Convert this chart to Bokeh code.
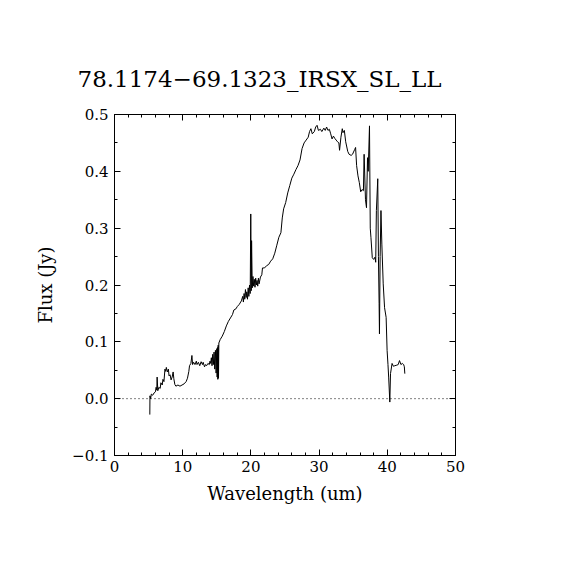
from bokeh.plotting import figure
from bokeh.models import (Range1d, LinearAxis, SingleIntervalTicker, Span,
                          CustomJSTickFormatter, ColumnDataSource)
from bokeh.embed import file_html
from bokeh.resources import INLINE

title_text = "78.1174\u221269.1323_IRSX_SL_LL"
x_label = "Wavelength (um)"
y_label = "Flux (Jy)"

wavelength = [
    5.18, 5.2, 5.3, 5.4, 5.6, 5.8, 6.0, 6.1, 6.2, 6.25, 6.35, 6.5, 6.7, 6.8,
    7.0, 7.1, 7.25, 7.4, 7.5, 7.6, 7.75, 7.9, 8.0, 8.15, 8.3, 8.45, 8.6, 8.7,
    8.85, 9.0, 9.3, 9.6, 9.9, 10.2, 10.5, 10.7, 10.9, 11.0, 11.2, 11.35,
    11.45, 11.6, 11.8, 12.0, 12.1, 12.3, 12.5, 12.7, 12.9, 13.0, 13.2, 13.35,
    13.5, 13.7, 13.9, 14.0, 14.1, 14.2, 14.3, 14.4, 14.5, 14.6, 14.7, 14.8,
    14.9, 15.0, 15.05, 15.1, 15.15, 15.2, 15.25, 15.3, 15.5, 15.8, 16.1,
    16.4, 16.7, 17.0, 17.3, 17.5, 17.8, 18.0, 18.3, 18.6, 18.8, 18.9, 19.0,
    19.1, 19.2, 19.3, 19.4, 19.5, 19.6, 19.7, 19.8, 19.9, 19.98, 20.05,
    20.1, 20.2, 20.3, 20.4, 20.5, 20.6, 20.7, 20.8, 20.9, 21.0, 21.1, 21.2,
    21.4, 21.6, 21.7, 22.0, 22.3, 22.6, 22.9, 23.2, 23.5, 23.8, 24.1, 24.4,
    24.6, 24.8, 25.1, 25.4, 25.7, 26.0, 26.3, 26.6, 26.9, 27.2, 27.5, 27.8,
    28.1, 28.4, 28.6, 28.8, 29.0, 29.3, 29.5, 29.7, 29.9, 30.2, 30.4, 30.7,
    30.9, 31.1, 31.3, 31.5, 31.7, 31.9, 32.1, 32.3, 32.5, 32.7, 32.9, 33.0,
    33.2, 33.4, 33.5, 33.7, 33.9, 34.2, 34.4, 34.7, 34.9, 35.2, 35.35, 35.5,
    35.7, 35.9, 36.1, 36.3, 36.5, 36.6, 36.8, 36.95, 37.1, 37.2, 37.39,
    37.5, 37.6, 37.8, 38.0, 38.2, 38.3, 38.4, 38.6, 38.7, 38.8, 38.85,
    38.95, 39.07, 39.2, 39.4, 39.6, 39.83, 39.97, 40.1, 40.2, 40.37, 40.47,
    40.7, 40.9, 41.1, 41.4, 41.6, 41.79, 42.0, 42.2, 42.4, 42.5, 42.57,
]

flux = [
    -0.028, 0.005, 0.000, 0.008, 0.006, 0.010, 0.012, 0.020, 0.015, 0.038,
    0.014, 0.020, 0.018, 0.028, 0.024, 0.034, 0.030, 0.052, 0.048, 0.055,
    0.047, 0.052, 0.040, 0.042, 0.033, 0.038, 0.047, 0.035, 0.025, 0.022,
    0.024, 0.022, 0.024, 0.026, 0.030, 0.036, 0.048, 0.058, 0.062, 0.076,
    0.060, 0.064, 0.060, 0.066, 0.060, 0.064, 0.058, 0.065, 0.060, 0.064,
    0.056, 0.060, 0.058, 0.062, 0.060, 0.066, 0.062, 0.072, 0.058, 0.078,
    0.060, 0.082, 0.052, 0.085, 0.045, 0.088, 0.038, 0.090, 0.034, 0.094,
    0.036, 0.098, 0.104, 0.110, 0.118, 0.128, 0.136, 0.142, 0.148, 0.156,
    0.158, 0.162, 0.166, 0.172, 0.180, 0.170, 0.185, 0.175, 0.192, 0.178,
    0.188, 0.175, 0.195, 0.180, 0.200, 0.185, 0.325, 0.190, 0.278, 0.195,
    0.215, 0.198, 0.210, 0.196, 0.212, 0.200, 0.208, 0.198, 0.212, 0.202,
    0.214, 0.218, 0.230, 0.230, 0.234, 0.236, 0.242, 0.246, 0.256, 0.270,
    0.284, 0.292, 0.318, 0.334, 0.345, 0.362, 0.375, 0.388, 0.395, 0.403,
    0.410, 0.420, 0.440, 0.450, 0.455, 0.460, 0.470, 0.475, 0.466, 0.470,
    0.478, 0.481, 0.472, 0.474, 0.470, 0.476, 0.472, 0.478, 0.472, 0.474,
    0.466, 0.457, 0.462, 0.458, 0.455, 0.452, 0.450, 0.437, 0.460, 0.475,
    0.468, 0.472, 0.452, 0.435, 0.430, 0.428, 0.430, 0.438, 0.442, 0.410,
    0.392, 0.380, 0.364, 0.368, 0.366, 0.430, 0.350, 0.336, 0.424, 0.400,
    0.480, 0.300, 0.284, 0.248, 0.245, 0.249, 0.240, 0.331, 0.387, 0.250,
    0.167, 0.114, 0.250, 0.331, 0.272, 0.202, 0.160, 0.143, 0.085, 0.060,
    0.038, -0.006, 0.044, 0.062, 0.057, 0.058, 0.059, 0.060, 0.067, 0.060,
    0.062, 0.060, 0.056, 0.044,
]

FONT = "DejaVu Serif"

p = figure(width=562, height=562, output_backend="svg", toolbar_location=None,
           x_range=Range1d(0, 50), y_range=Range1d(-0.1, 0.5),
           x_axis_location=None, y_axis_location=None,
           min_border_left=114, min_border_right=107,
           min_border_top=114, min_border_bottom=107)
p.background_fill_color = "white"
p.border_fill_color = "white"
p.outline_line_color = None
p.xgrid.visible = False
p.ygrid.visible = False

def style_axis(ax, show_labels):
    ax.axis_line_color = "black"
    ax.axis_line_width = 1
    ax.major_tick_in = 6
    ax.major_tick_out = 0
    ax.minor_tick_in = 3
    ax.minor_tick_out = 0
    ax.major_tick_line_color = "black"
    ax.minor_tick_line_color = "black"
    ax.major_label_text_font = FONT
    ax.major_label_text_font_size = "15px"
    ax.major_label_text_color = "black"
    ax.axis_label_text_font = FONT
    ax.axis_label_text_font_size = "18px"
    ax.axis_label_text_font_style = "normal"
    ax.axis_label_text_color = "black"
    if not show_labels:
        ax.formatter = CustomJSTickFormatter(code="return '';")
        ax.major_label_text_font_size = "0px"

fmt_y = CustomJSTickFormatter(code="""
    const s = Math.abs(tick).toFixed(1);
    return (tick < -1e-9 ? "\\u2212" : "") + s;
""")
fmt_x = CustomJSTickFormatter(code="return Math.round(tick).toString();")

xb = LinearAxis(ticker=SingleIntervalTicker(interval=10, num_minor_ticks=5),
                formatter=fmt_x, axis_label=x_label)
style_axis(xb, True)
xb.major_label_standoff = 5
xb.axis_label_standoff = 8
p.add_layout(xb, "below")

xt = LinearAxis(ticker=SingleIntervalTicker(interval=10, num_minor_ticks=5))
style_axis(xt, False)
xt.major_label_standoff = 0
p.add_layout(xt, "above")

yl = LinearAxis(ticker=SingleIntervalTicker(interval=0.1, num_minor_ticks=2),
                formatter=fmt_y, axis_label=y_label)
style_axis(yl, True)
yl.major_label_standoff = 6
yl.axis_label_standoff = 13
p.add_layout(yl, "left")

yr = LinearAxis(ticker=SingleIntervalTicker(interval=0.1, num_minor_ticks=2))
style_axis(yr, False)
p.add_layout(yr, "right")

p.title.text = title_text
p.title.text_font = FONT
p.title.text_font_size = "23px"
p.title.text_font_style = "normal"
p.title.text_color = "black"
p.title.align = "left"
p.title.offset = -37
p.title.standoff = 46

zero = Span(location=0, dimension="width", line_color="black",
            line_width=1, line_dash="1 3")
p.add_layout(zero)

src = ColumnDataSource(data=dict(x=wavelength, y=flux))
p.line("x", "y", source=src, line_color="black", line_width=1)

open("out.html", "w").write(file_html(p, INLINE))
